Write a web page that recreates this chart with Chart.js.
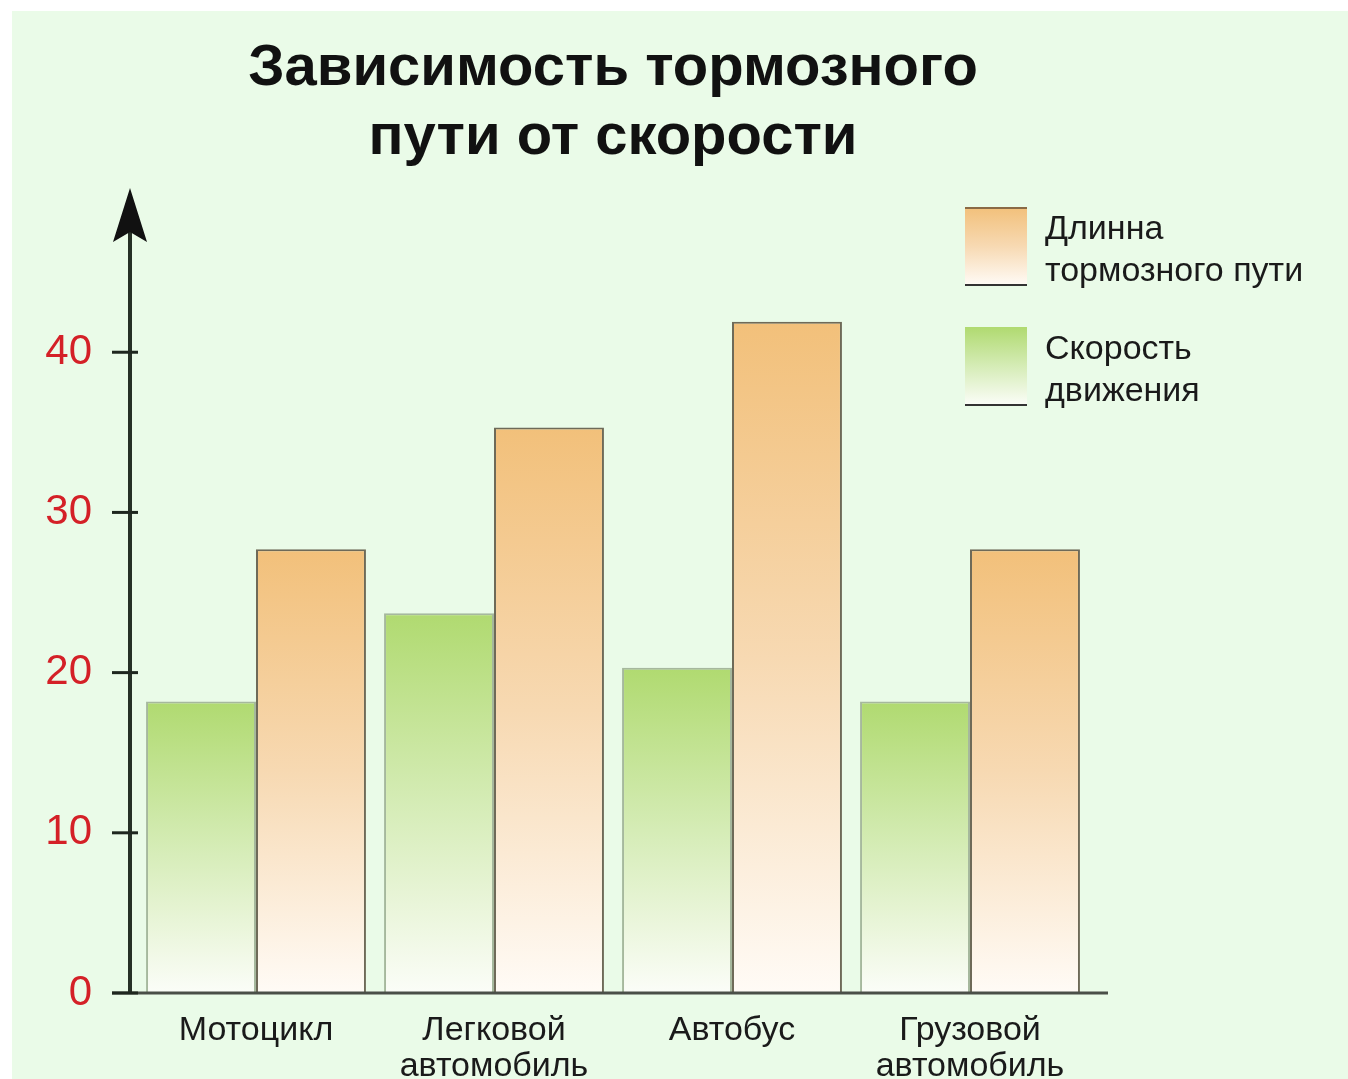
<!DOCTYPE html>
<html>
<head>
<meta charset="utf-8">
<script src="https://cdn.jsdelivr.net/npm/chart.js@4.4.1/dist/chart.umd.min.js"></script>
<style>
  html, body { margin: 0; padding: 0; background: #fff; }
  canvas { display: block; }
</style>
</head>
<body>
<canvas id="chart" width="1348" height="1079"></canvas>
<script>
// data
var categories = [['Мотоцикл'], ['Легковой', 'автомобиль'], ['Автобус'], ['Грузовой', 'автомобиль']];
var speedValues = [18.2, 23.7, 20.3, 18.2];
var brakingValues = [27.7, 35.3, 41.9, 27.7];
var yTicks = [0, 10, 20, 30, 40];
var titleLines = ['Зависимость тормозного', 'пути от скорости'];
var brakingLegend = ['Длинна', 'тормозного пути'];
var speedLegend = ['Скорость', 'движения'];

var FONT = "'Liberation Sans', Arial, sans-serif";

function barGradient(ctx, stops) {
    var chart = ctx.chart;
    if (!chart.chartArea || ctx.raw === undefined) return stops[0][1];
    var y = chart.scales.y;
    var top = y.getPixelForValue(ctx.raw);
    var bottom = y.getPixelForValue(0);
    var g = chart.ctx.createLinearGradient(0, top, 0, bottom);
    stops.forEach(function (s) { g.addColorStop(s[0], s[1]); });
    return g;
}

var orangeStops = [[0, '#f2c07a'], [0.5, '#f7d9b2'], [1, '#fffbf6']];
var greenStops = [[0, '#b0da70'], [0.5, '#d5ecb6'], [1, '#fbfdf8']];

// background panel
var backgroundPlugin = {
    id: 'panel',
    beforeDraw: function (chart) {
        var c = chart.ctx;
        c.save();
        c.fillStyle = '#ffffff';
        c.fillRect(0, 0, chart.width, chart.height);
        c.fillStyle = '#eafbe8';
        c.fillRect(12, 11, chart.width - 12, chart.height - 11);
        c.restore();
    }
};

// axes with arrow and the side legend
var axesPlugin = {
    id: 'axes',
    afterDatasetsDraw: function (chart) {
        var c = chart.ctx;
        var y = chart.scales.y;
        var area = chart.chartArea;
        var ax = area.left - 7;
        var y0 = y.getPixelForValue(0);
        c.save();
        // x axis
        c.strokeStyle = '#4a4f48';
        c.lineWidth = 3;
        c.beginPath();
        c.moveTo(ax - 18, y0);
        c.lineTo(area.right + 19, y0);
        c.stroke();
        // y axis
        c.strokeStyle = '#263026';
        c.lineWidth = 4;
        c.beginPath();
        c.moveTo(ax, y0);
        c.lineTo(ax, area.top + 40);
        c.stroke();
        c.fillStyle = '#111';
        c.beginPath();
        c.moveTo(ax, area.top - 4);
        c.lineTo(ax + 17, area.top + 50);
        c.lineTo(ax, area.top + 40);
        c.lineTo(ax - 17, area.top + 50);
        c.closePath();
        c.fill();
        // tick marks
        c.strokeStyle = '#1e261e';
        c.lineWidth = 3;
        yTicks.forEach(function (v) {
            var py = y.getPixelForValue(v);
            c.beginPath();
            c.moveTo(ax - 18, py);
            c.lineTo(ax + 8, py);
            c.stroke();
        });
        c.restore();
    },
    afterDraw: function (chart) {
        var c = chart.ctx;
        var items = [
            {lines: brakingLegend, stops: orangeStops, top: 207, topLine: true},
            {lines: speedLegend, stops: greenStops, top: 327, topLine: false}
        ];
        c.save();
        items.forEach(function (it) {
            var x = 965, w = 62, h = 78;
            var g = c.createLinearGradient(0, it.top, 0, it.top + h);
            it.stops.forEach(function (s) { g.addColorStop(s[0], s[1]); });
            c.fillStyle = g;
            c.fillRect(x, it.top, w, h);
            if (it.topLine) {
                c.fillStyle = '#8a6a45';
                c.fillRect(x, it.top, w, 2);
            }
            c.fillStyle = '#333';
            c.fillRect(x, it.top + h - 1, w, 2);
            c.fillStyle = '#1a1a1a';
            c.font = '34px ' + FONT;
            c.textBaseline = 'middle';
            c.textAlign = 'left';
            c.fillText(it.lines[0], 1045, it.top + 23);
            c.fillText(it.lines[1], 1045, it.top + 65);
        });
        c.restore();
    }
};

new Chart(document.getElementById('chart'), {
    type: 'bar',
    data: {
        labels: categories,
        datasets: [
            {
                label: speedLegend.join(' '),
                data: speedValues,
                backgroundColor: function (ctx) { return barGradient(ctx, greenStops); },
                borderColor: 'rgba(110,130,95,0.55)',
                borderWidth: 2,
                borderSkipped: 'bottom',
                categoryPercentage: 0.924,
                barPercentage: 1.0
            },
            {
                label: brakingLegend.join(' '),
                data: brakingValues,
                backgroundColor: function (ctx) { return barGradient(ctx, orangeStops); },
                borderColor: '#6e6a58',
                borderWidth: 2,
                borderSkipped: 'bottom',
                categoryPercentage: 0.924,
                barPercentage: 1.0
            }
        ]
    },
    options: {
        responsive: false,
        animation: false,
        layout: {padding: {left: 0, right: 259, top: 0, bottom: 0}},
        plugins: {
            legend: {display: false},
            tooltip: {enabled: false},
            title: {
                display: true,
                fullSize: false,
                text: titleLines,
                color: '#111',
                font: {family: FONT, size: 58, weight: 'bold', lineHeight: 1.19},
                padding: {top: 34, bottom: 20}
            }
        },
        scales: {
            x: {
                grid: {display: false, drawTicks: false},
                border: {display: false},
                ticks: {
                    color: '#1a1a1a',
                    font: {family: FONT, size: 34, lineHeight: 1.06},
                    padding: 20,
                    maxRotation: 0,
                    autoSkip: false
                },
                afterFit: function (s) { s.height = 86; }
            },
            y: {
                min: 0,
                max: 50,
                grid: {display: false, drawTicks: false},
                border: {display: false},
                afterBuildTicks: function (s) {
                    s.ticks = yTicks.map(function (v) { return {value: v}; });
                },
                ticks: {
                    color: '#d42027',
                    font: {family: FONT, size: 42},
                    padding: 45
                },
                afterFit: function (s) { s.width = 137; }
            }
        }
    },
    plugins: [backgroundPlugin, axesPlugin]
});
</script>
</body>
</html>
